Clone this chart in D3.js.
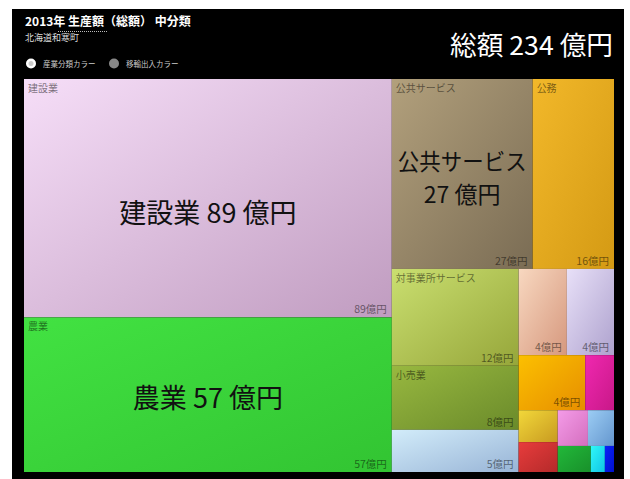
<!DOCTYPE html>
<html><head><meta charset="utf-8">
<script src="https://cdn.jsdelivr.net/npm/d3@7"></script>
<style>
html,body{margin:0;padding:0;background:#fff;}
svg{display:block;font-family:"Noto Sans CJK JP","Noto Sans",sans-serif;}
</style></head>
<body><svg id="c" width="630" height="479"></svg>
<script>
// ---- data (億円) ----
const names = ["建設業","農業","公共サービス","公務","対事業所サービス","小売業",
  "分類07","分類08","分類09","分類10","分類11","分類12","分類13","分類14","分類15","分類16","分類17","分類18"];
const values = [88.5, 57.4, 27.0, 15.6, 12.4, 8.2, 5.4, 4.2, 4.1, 3.7, 1.6, 1.26, 1.18, 1.09, 0.94, 0.87, 0.37, 0.24];
const colorsLight = ["#f6def8","#42e242","#b2a07c","#f2b82a","#cadf70","#98b840","#d2ecfa","#f8d8c0","#e8e0f8",
  "#fcc000","#f028b0","#f2d83a","#e83c3c","#f49ce8","#9ccdf4","#22b83a","#30f8f8","#0a22f8"];
const colorsDark = ["#c09cc0","#32c432","#7a6c54","#d49a14","#96a63a","#6a8a2a","#98b4d6","#d6987e","#aea2ce",
  "#e68e00","#c81888","#c89a20","#b42a2a","#d46ebe","#6496ce","#18902a","#10c4e6","#0010cc"];
const title = "2013年 生産額（総額） 中分類";
const subtitle = "北海道和寒町";
const legendLabels = ["産業分類カラー","移輸出入カラー"];
const unit = "億円";

const svg = d3.select("#c");
svg.append("rect").attr("x",12).attr("y",9).attr("width",612).attr("height",470).attr("fill","#000");

// header
svg.append("text").attr("x",25).attr("y",26).attr("fill","#fff").attr("font-size",12).attr("font-weight","bold").text(title);
svg.append("line").attr("x1",58).attr("x2",107).attr("y1",31.5).attr("y2",31.5)
  .attr("stroke","#bbb").attr("stroke-width",1).attr("stroke-dasharray","1,1");
svg.append("text").attr("x",25).attr("y",41).attr("fill","#ddd").attr("font-size",9).text(subtitle);

const legend = svg.append("g");
[[31,"#fff"],[114,"#888"]].forEach((d,i)=>{
  legend.append("circle").attr("cx",d[0]).attr("cy",63.5).attr("r",5).attr("fill",d[1]);
  legend.append("text").attr("x",d[0]+12).attr("y",66.5).attr("fill","#ccc").attr("font-size",7.5).text(legendLabels[i]);
});
legend.append("circle").attr("cx",31).attr("cy",63.5).attr("r",2.5).attr("fill","#ccc");

// treemap
const x0=24, y0=79, x1=614, y1=472;
const data = {children: names.map((n,i)=>({name:n, value:values[i], i}))};
const root = d3.hierarchy(data).sum(d=>d.value||0);
d3.treemap().tile(d3.treemapSquarify).size([x1-x0, y1-y0]).round(false)(root);
const total = d3.sum(values);

svg.append("text").attr("x",613).attr("y",55).attr("text-anchor","end").attr("fill","#fff")
  .attr("font-size",26).attr("textLength",163).attr("lengthAdjust","spacingAndGlyphs")
  .text("総額 " + Math.round(total) + " 億円");

const defs = svg.append("defs");
values.forEach((v,i)=>{
  const g = defs.append("linearGradient").attr("id","g"+i).attr("x1",0).attr("y1",0).attr("x2",1).attr("y2",1);
  g.append("stop").attr("offset","0%").attr("stop-color",colorsLight[i]);
  g.append("stop").attr("offset","100%").attr("stop-color",colorsDark[i]);
});

const cells = svg.append("g").attr("transform",`translate(${x0},${y0})`)
  .selectAll("g").data(root.leaves()).join("g");
cells.append("rect").attr("x",d=>d.x0).attr("y",d=>d.y0)
  .attr("width",d=>d.x1-d.x0).attr("height",d=>d.y1-d.y0)
  .attr("fill",d=>`url(#g${d.data.i})`);

// small name labels (top-left)
cells.filter(d=>d.value>=8).append("text")
  .attr("x",d=>d.x0+4).attr("y",d=>d.y0+13).attr("font-size",10)
  .attr("fill","#000").attr("fill-opacity",0.5).text(d=>d.data.name);
// value labels (bottom-right)
cells.filter(d=>(d.x1-d.x0)>40 && (d.y1-d.y0)>40).append("text")
  .attr("x",d=>d.x1-5).attr("y",d=>d.y1-4).attr("text-anchor","end").attr("font-size",10.5)
  .attr("fill","#000").attr("fill-opacity",0.5).text(d=>Math.round(d.value)+unit);
// big labels
cells.filter(d=>d.value>=20).each(function(d){
  const g = d3.select(this);
  const w=d.x1-d.x0, h=d.y1-d.y0;
  const cx=(d.x0+d.x1)/2, cy=(d.y0+d.y1)/2 + Math.max(0,h-200)*0.3 + 4;
  const one = d.data.name + " " + Math.round(d.value) + " 億円";
  const t = g.append("text").attr("x",cx).attr("text-anchor","middle").attr("font-size",27).attr("fill","#111");
  t.text(one);
  if (t.node().getComputedTextLength() > w - 10) {
    t.remove();
    const fs = 23;
    const a = g.append("text").attr("x",cx).attr("y",cy-16.5+fs*0.36).attr("text-anchor","middle")
      .attr("font-size",fs).attr("fill","#111").text(d.data.name);
    const L = a.node().getComputedTextLength();
    if (L > w - 12) a.attr("textLength", w - 12).attr("lengthAdjust","spacingAndGlyphs");
    g.append("text").attr("x",cx).attr("y",cy+16.5+fs*0.36).attr("text-anchor","middle")
      .attr("font-size",fs).attr("fill","#111").text(Math.round(d.value)+" 億円");
  } else {
    t.attr("y",cy+27*0.36);
  }
});
</script></body></html>
